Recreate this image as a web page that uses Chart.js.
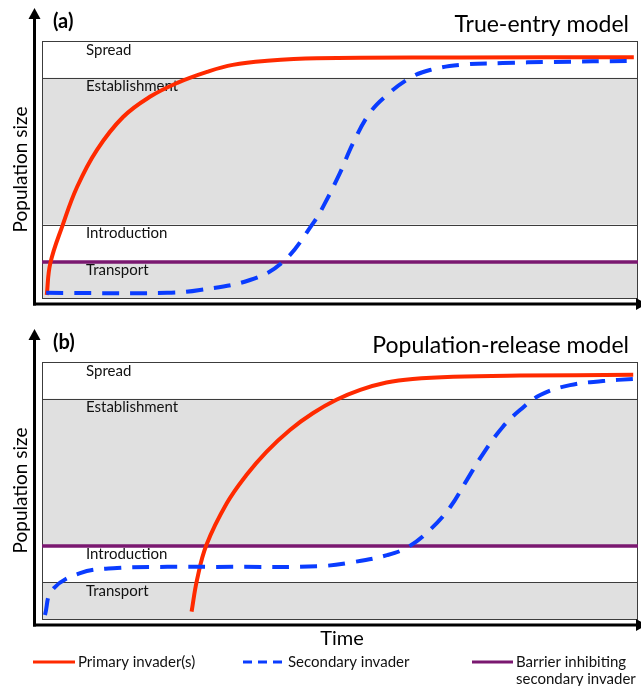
<!DOCTYPE html>
<html>
<head>
<meta charset="utf-8">
<script src="https://cdn.jsdelivr.net/npm/chart.js@4.4.1/dist/chart.umd.min.js"></script>
<style>
  html, body { margin: 0; padding: 0; background: #fff; }
  #wrap { position: relative; width: 641px; height: 686px; overflow: hidden; }
  .panel { position: absolute; left: 0; width: 641px; }
</style>
</head>
<body>
<div id="wrap">
  <div class="panel" style="top:0;height:320px"><canvas id="chartA" width="641" height="320"></canvas></div>
  <div class="panel" style="top:320px;height:366px"><canvas id="chartB" width="641" height="366"></canvas></div>
</div>
<script>
// invasion stages, bottom to top (population size units)
const stageNames = ["Transport", "Introduction", "Establishment", "Spread"];
const stageBounds = [0, 1, 2, 6, 7];
const stageShaded = [true, false, true, false];

// (a) true-entry model
const primaryTimeA = [0.8, 1.4, 3.5, 5.9, 9.2, 13.6, 18.1, 22.7, 27.7, 32.0, 37.8, 46.1, 70, 99.3];
const primaryA     = [0.08, 0.95, 2.0, 3.03, 4.03, 4.93, 5.48, 5.86, 6.16, 6.35, 6.46, 6.53, 6.55, 6.56];
const secondaryTimeA = [0.7, 21, 26.5, 34.9, 40.4, 45.5, 47.5, 50, 52.2, 55, 57.9, 61.7, 65.1, 70.1, 77.3, 85.7, 99.2];
const secondaryA     = [0.14, 0.14, 0.22, 0.49, 0.98, 2.04, 2.59, 3.41, 4.22, 5.04, 5.53, 5.99, 6.21, 6.35, 6.40, 6.43, 6.46];
const barrierTimeA = [0, 100];
const barrierA     = [0.98, 0.98];

// (b) population-release model
const primaryTimeB = [25.1, 26.0, 27.6, 31.0, 34.3, 37.7, 41.6, 45.5, 49.4, 53.4, 57.8, 62.2, 69, 80.2, 99.2];
const primaryB     = [0.20, 1.06, 2.02, 3.15, 3.92, 4.56, 5.15, 5.61, 5.97, 6.24, 6.44, 6.54, 6.60, 6.63, 6.65];
const secondaryTimeB = [0.5, 1.7, 6.4, 12.6, 21, 32, 46.6, 52.2, 57.9, 61.4, 65.1, 68.5, 71.3, 74, 77.3, 80.2, 83.6, 88.6, 94.1, 99.2];
const secondaryB     = [0.11, 0.79, 1.25, 1.39, 1.42, 1.42, 1.44, 1.55, 1.74, 1.96, 2.43, 3.05, 3.79, 4.5, 5.23, 5.69, 6.10, 6.37, 6.48, 6.54];
const barrierTimeB = [0, 100];
const barrierB     = [1.99, 1.99];

const seriesLabels = ["Primary invader(s)", "Secondary invader", "Barrier inhibiting\nsecondary invader"];

const RED = "#ff2a00", BLUE = "#0a3cff", PURPLE = "#7a1870";
const FONT = "Lato";
Chart.defaults.font.family = FONT;

const pts = (xs, ys) => xs.map((x, i) => ({ x, y: ys[i] }));

function drawArrow(ctx, x1, y1, x2, y2) {
  const ang = Math.atan2(y2 - y1, x2 - x1);
  ctx.beginPath();
  ctx.moveTo(x1, y1);
  ctx.lineTo(x2 - 9 * Math.cos(ang), y2 - 9 * Math.sin(ang));
  ctx.stroke();
  ctx.beginPath();
  ctx.moveTo(x2, y2);
  ctx.lineTo(x2 - 11 * Math.cos(ang) + 6 * Math.sin(ang), y2 - 11 * Math.sin(ang) - 6 * Math.cos(ang));
  ctx.lineTo(x2 - 11 * Math.cos(ang) - 6 * Math.sin(ang), y2 - 11 * Math.sin(ang) + 6 * Math.cos(ang));
  ctx.closePath();
  ctx.fill();
}

const stagePlugin = {
  id: "stages",
  beforeDatasetsDraw(chart, args, opts) {
    const { ctx, chartArea: a, scales: { y } } = chart;
    ctx.save();
    for (let i = 0; i < stageNames.length; i++) {
      const top = y.getPixelForValue(stageBounds[i + 1]);
      const bot = y.getPixelForValue(stageBounds[i]);
      if (stageShaded[i]) {
        ctx.fillStyle = "#e0e0e0";
        ctx.fillRect(a.left, top, a.right - a.left, bot - top);
      }
    }
    ctx.strokeStyle = "#3c3c3c";
    ctx.lineWidth = 1;
    stageBounds.forEach(v => {
      const p = Math.round(y.getPixelForValue(v)) + 0.5;
      ctx.beginPath();
      ctx.moveTo(a.left, p);
      ctx.lineTo(a.right, p);
      ctx.stroke();
    });
    ctx.beginPath();
    ctx.moveTo(Math.round(a.left) + 0.5, a.top);
    ctx.lineTo(Math.round(a.left) + 0.5, a.bottom);
    ctx.moveTo(Math.round(a.right) - 0.5, a.top);
    ctx.lineTo(Math.round(a.right) - 0.5, a.bottom);
    ctx.stroke();

    ctx.fillStyle = "#111";
    ctx.font = "15px " + FONT;
    ctx.textBaseline = "alphabetic";
    ctx.textAlign = "left";
    for (let i = 0; i < stageNames.length; i++) {
      ctx.fillText(stageNames[i], a.left + 44, y.getPixelForValue(stageBounds[i + 1]) + 13.5);
    }
    ctx.restore();
  },
  afterDraw(chart, args, opts) {
    const { ctx, chartArea: a, width } = chart;
    ctx.save();
    ctx.strokeStyle = "#000";
    ctx.fillStyle = "#000";
    ctx.lineWidth = 3;
    const ax = a.left - 7.5, ay = a.bottom + 6;
    drawArrow(ctx, ax, ay + 1.5, ax, a.top - 33);
    drawArrow(ctx, ax - 1.5, ay, width + 6, ay);

    ctx.font = "bold 20px " + FONT;
    ctx.textBaseline = "middle";
    ctx.textAlign = "left";
    ctx.fillText(opts.letter, a.left + 11, a.top - 19);

    ctx.font = "23px " + FONT;
    ctx.textAlign = "right";
    ctx.textBaseline = "alphabetic";
    ctx.fillText(opts.title, a.right - 9, a.top - 9);

    ctx.save();
    ctx.translate(21, (a.top + a.bottom) / 2);
    ctx.rotate(-Math.PI / 2);
    ctx.font = "19px " + FONT;
    ctx.textAlign = "center";
    ctx.textBaseline = "middle";
    ctx.fillText("Population size", 0, 0);
    ctx.restore();

    if (opts.footer) {
      ctx.font = "20px " + FONT;
      ctx.textAlign = "center";
      ctx.textBaseline = "middle";
      ctx.fillText("Time", 342, a.bottom + 20);

      const ly = a.bottom + 43;
      const items = chart.data.datasets;
      const spots = [[33, 75], [243, 285], [472, 513]];
      ctx.font = "15px " + FONT;
      ctx.textAlign = "left";
      ctx.textBaseline = "alphabetic";
      items.forEach((ds, k) => {
        ctx.strokeStyle = ds.borderColor;
        ctx.lineWidth = 3;
        ctx.setLineDash(ds.borderDash ? [9, 6] : []);
        ctx.beginPath();
        ctx.moveTo(spots[k][0], ly);
        ctx.lineTo(spots[k][1], ly);
        ctx.stroke();
        ctx.setLineDash([]);
        ctx.fillStyle = "#111";
        ds.label.split("\n").forEach((line, j) => {
          ctx.fillText(line, spots[k][1] + 3, ly + 5 + j * 17);
        });
      });
    }
    ctx.restore();
  }
};

function makeChart(id, primary, secondary, barrier, pad, opts) {
  return new Chart(document.getElementById(id), {
    type: "line",
    data: {
      datasets: [
        { label: seriesLabels[0], data: primary, borderColor: RED, borderWidth: 4, order: 2 },
        { label: seriesLabels[1], data: secondary, borderColor: BLUE, borderWidth: 4, borderDash: [17, 11], order: 1 },
        { label: seriesLabels[2], data: barrier, borderColor: PURPLE, borderWidth: 3.5, tension: 0, order: 3 }
      ]
    },
    options: {
      responsive: false,
      animation: false,
      layout: { padding: pad },
      elements: {
        point: { radius: 0 },
        line: { tension: 0.4, fill: false }
      },
      scales: {
        x: { type: "linear", min: 0, max: 100, display: false },
        y: { min: 0, max: 7, display: false }
      },
      plugins: {
        legend: { display: false },
        tooltip: { enabled: false },
        stages: opts
      }
    },
    plugins: [stagePlugin]
  });
}

makeChart("chartA", pts(primaryTimeA, primaryA), pts(secondaryTimeA, secondaryA), pts(barrierTimeA, barrierA),
  { left: 42, right: 3, top: 41, bottom: 22 },
  { letter: "(a)", title: "True-entry model", footer: false });

makeChart("chartB", pts(primaryTimeB, primaryB), pts(secondaryTimeB, secondaryB), pts(barrierTimeB, barrierB),
  { left: 42, right: 3, top: 42, bottom: 67 },
  { letter: "(b)", title: "Population-release model", footer: true });
</script>
</body>
</html>
